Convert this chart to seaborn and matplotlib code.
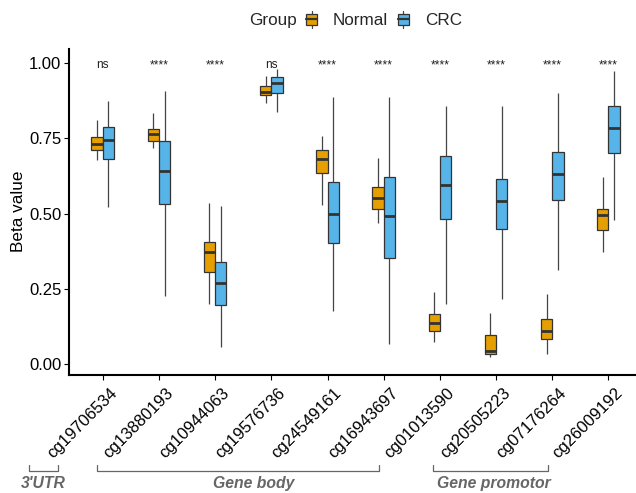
import numpy as np
import pandas as pd
import matplotlib
matplotlib.use("Agg")
import matplotlib.pyplot as plt
import matplotlib.transforms as mtrans
import seaborn as sns
from matplotlib.patches import Rectangle, Patch
from matplotlib.lines import Line2D
from matplotlib.legend_handler import HandlerBase

# ---------------- data ----------------
probes = ["cg19706534", "cg13880193", "cg10944063", "cg19576736", "cg24549161",
          "cg16943697", "cg01013590", "cg20505223", "cg07176264", "cg26009192"]
groups = ["Normal", "CRC"]

normal_min = [0.678, 0.719, 0.198, 0.869, 0.529, 0.470, 0.074, 0.022, 0.032, 0.371]
normal_q1  = [0.713, 0.742, 0.305, 0.894, 0.635, 0.517, 0.111, 0.032, 0.084, 0.445]
normal_med = [0.731, 0.766, 0.372, 0.906, 0.682, 0.553, 0.135, 0.044, 0.111, 0.496]
normal_q3  = [0.755, 0.780, 0.406, 0.923, 0.713, 0.589, 0.165, 0.097, 0.150, 0.517]
normal_max = [0.811, 0.835, 0.534, 0.958, 0.758, 0.684, 0.238, 0.171, 0.233, 0.621]

crc_min = [0.523, 0.226, 0.058, 0.839, 0.177, 0.065, 0.201, 0.215, 0.312, 0.479]
crc_q1  = [0.682, 0.533, 0.196, 0.901, 0.402, 0.351, 0.483, 0.449, 0.544, 0.701]
crc_med = [0.744, 0.643, 0.268, 0.934, 0.499, 0.493, 0.594, 0.542, 0.633, 0.784]
crc_q3  = [0.788, 0.740, 0.339, 0.953, 0.605, 0.622, 0.691, 0.614, 0.706, 0.858]
crc_max = [0.875, 0.909, 0.524, 0.980, 0.887, 0.889, 0.858, 0.858, 0.902, 0.974]

signif = ["ns", "****", "****", "ns", "****", "****", "****", "****", "****", "****"]

regions = ["3'UTR", "Gene body", "Gene promotor"]
y_ticks = [0.00, 0.25, 0.50, 0.75, 1.00]
y_ticklabels = ["0.00", "0.25", "0.50", "0.75", "1.00"]

colors = {"Normal": "#E69F00", "CRC": "#56B4E9"}

# long table: five summary points per box (min, q1, median, q3, max)
rows = []
for i, p in enumerate(probes):
    for v in (normal_min[i], normal_q1[i], normal_med[i], normal_q3[i], normal_max[i]):
        rows.append((p, "Normal", v))
    for v in (crc_min[i], crc_q1[i], crc_med[i], crc_q3[i], crc_max[i]):
        rows.append((p, "CRC", v))
df = pd.DataFrame(rows, columns=["probe", "Group", "value"])

# ---------------- style ----------------
sns.set_style("ticks")
plt.rcParams["font.family"] = ["Liberation Sans", "DejaVu Sans"]

W, H = 636, 493
fig = plt.figure(figsize=(W / 100, H / 100), dpi=100)
ax = fig.add_axes([69 / W, 1 - 375 / H, 573.2 / W, (375 - 49.3) / H])

edge = "#333333"
sns.boxplot(data=df, x="probe", y="value", hue="Group", order=probes,
            hue_order=groups, palette=colors, saturation=1, width=0.4, gap=0,
            whis=(0, 100), showcaps=False, showfliers=False,
            linewidth=0.9, linecolor=edge, legend=False, ax=ax,
            medianprops=dict(color=edge, linewidth=2.0),
            whiskerprops=dict(color="#444444", linewidth=0.9))

for i, s in enumerate(signif):
    ax.text(i, 0.984, s, ha="center", va="baseline", fontsize=8.6, color="#222222")

ax.set_xlim(-0.6, 9.6)
ax.set_ylim(-0.0366, 1.0466)
ax.set_yticks(y_ticks)
ax.set_yticklabels(y_ticklabels)
ax.set_xlabel("")
ax.set_ylabel("")
ax.tick_params(axis="both", labelsize=12, colors="black", length=3.5, width=0.8, pad=2)
shift = mtrans.ScaledTranslation(6.5 / 100, -2.5 / 100, fig.dpi_scale_trans)
for lab in ax.get_xticklabels():
    lab.set_rotation(45)
    lab.set_ha("right")
    lab.set_va("top")
    lab.set_rotation_mode("anchor")
    lab.set_transform(lab.get_transform() + shift)
for side in ("top", "right"):
    ax.spines[side].set_visible(False)
for side in ("left", "bottom"):
    ax.spines[side].set_linewidth(1.5)
    ax.spines[side].set_color("black")

fig.text(19 / W, 1 - 211 / H, "Beta value", rotation=90, ha="center", va="center",
         fontsize=12.3, color="black")

# ---------------- legend ----------------
class BoxHandler(HandlerBase):
    def create_artists(self, legend, orig_handle, xdescent, ydescent,
                       width, height, fontsize, trans):
        x0, y0 = -xdescent, -ydescent
        cx = x0 + width / 2
        wl = Line2D([cx, cx], [y0 - 0.12 * height, y0 + 1.12 * height],
                    color="#444444", lw=0.9, transform=trans)
        rect = Rectangle((x0, y0 + 0.1 * height), width, 0.8 * height,
                         facecolor=orig_handle.get_facecolor(), edgecolor=edge,
                         lw=0.9, transform=trans)
        med = Line2D([x0, x0 + width], [y0 + 0.5 * height] * 2,
                     color=edge, lw=1.6, transform=trans)
        return [wl, rect, med]

handles = [Patch(facecolor=colors[g]) for g in groups]
fs_leg = 12.3
fig.legend(handles, groups, loc="center left",
           bbox_to_anchor=(306 / W, 1 - 20.5 / H), ncol=2, frameon=False,
           borderpad=0, borderaxespad=0, fontsize=fs_leg,
           handlelength=0.66, handleheight=0.82, handletextpad=0.92,
           columnspacing=0.55, handler_map={Patch: BoxHandler()})
fig.text(249 / W, 1 - 20.5 / H, "Group", ha="left", va="center", fontsize=fs_leg)

# ---------------- region brackets ----------------
gray = "#666666"
brackets = [(29.3, 57.7, 43.3), (96.7, 379.3, 254.0), (433.3, 548.3, 494.0)]
y_line = 1 - 470.7 / H
y_top = 1 - 465.0 / H
for (xa, xb, xc), name in zip(brackets, regions):
    fig.add_artist(Line2D([xa / W, xa / W, xb / W, xb / W], [y_top, y_line, y_line, y_top],
                          color=gray, lw=0.9, transform=fig.transFigure))
    fig.text(xc / W, 1 - 488 / H, name, ha="center", va="baseline",
             fontsize=11.3, fontweight="bold", fontstyle="italic", color=gray)

fig.savefig("out.png", dpi=100)
